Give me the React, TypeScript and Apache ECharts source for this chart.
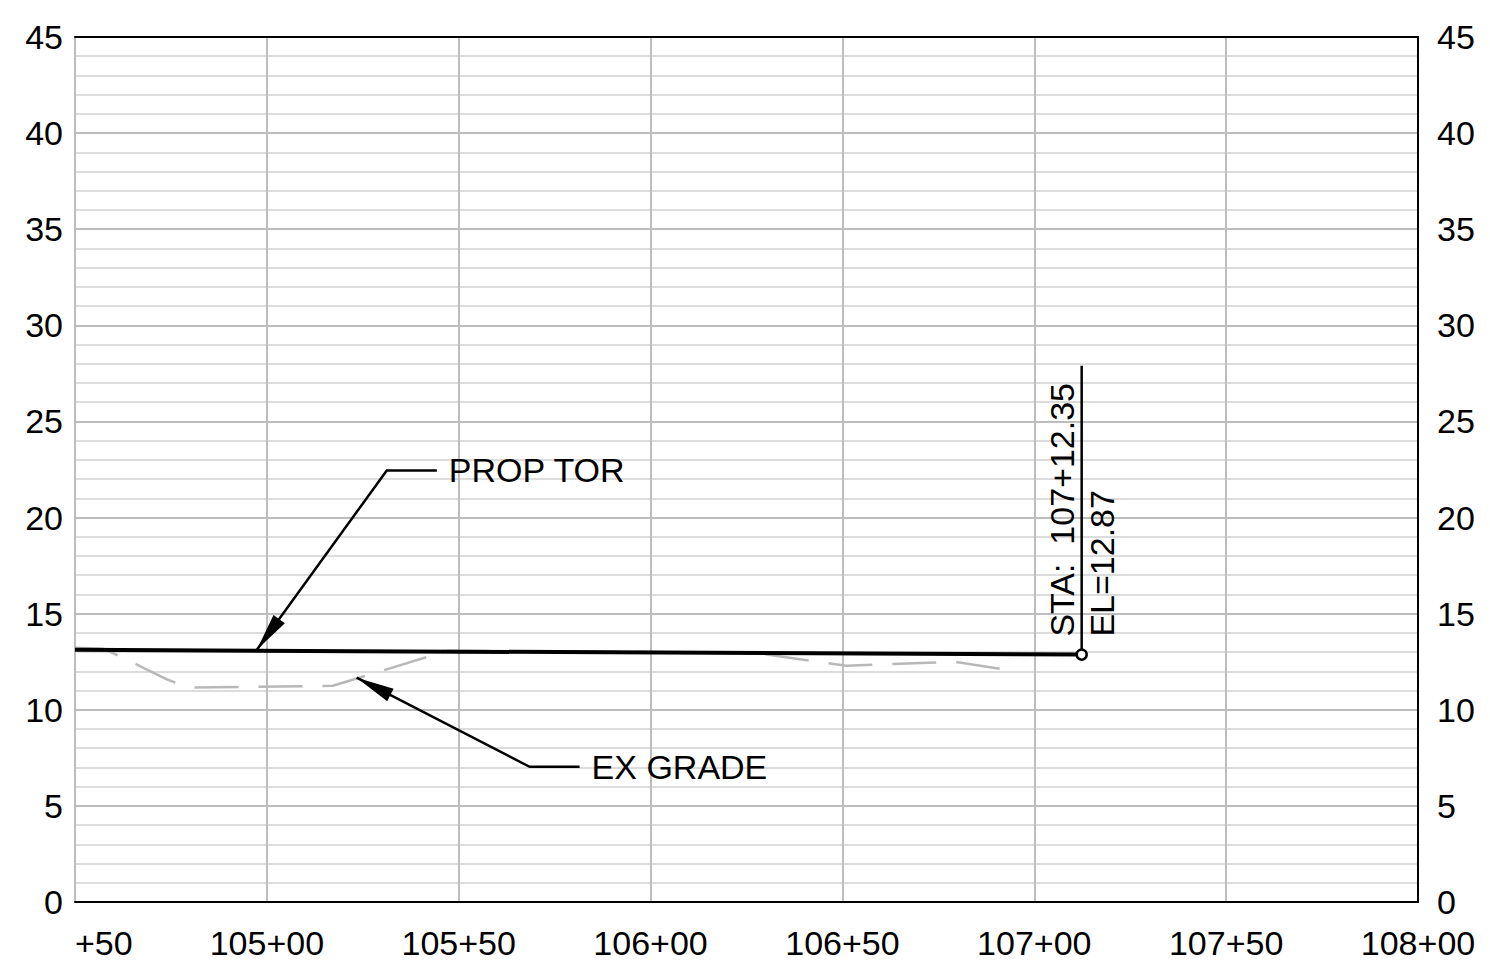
import React, { useEffect, useRef } from "react";
import * as echarts from "echarts";

// Station axis (feet), elevation axis
const stationTicks = [10450, 10500, 10550, 10600, 10650, 10700, 10750, 10800];
const stationTickLabels = ["+50", "105+00", "105+50", "106+00", "106+50", "107+00", "107+50", "108+00"];
const elevTicks = [0, 5, 10, 15, 20, 25, 30, 35, 40, 45];

// Proposed top of rail
const propTorStation = [10450, 10712.35];
const propTorElev = [13.12, 12.87];

// Existing grade
const exGradeStation = [10450, 10457.3, 10462.5, 10468.2, 10474.2, 10479.7, 10517.2, 10547.1, 10627.1, 10651.0, 10679.2, 10694.3];
const exGradeElev = [13.23, 13.18, 12.71, 12.14, 11.56, 11.15, 11.25, 13.07, 12.97, 12.29, 12.5, 12.03];

// Annotation anchors (station, elevation)
const propLeaderPts = [[10497.4, 13.12], [10531.25, 22.45], [10544.3, 22.45]];
const exLeaderPts = [[10523.4, 11.67], [10568.5, 7.03], [10581.5, 7.03]];
const staPoint = [10712.35, 12.87];
const staLeaderTop = 27.9;

const FONT = "Liberation Sans";
const FS = 34;

export default function App() {
  const ref = useRef<HTMLDivElement>(null);
  useEffect(() => {
    if (!ref.current) return;
    const chart = echarts.init(ref.current, null, { renderer: "svg" });
    const fmtX = (v: number) => {
      const i = stationTicks.indexOf(v);
      return i >= 0 ? stationTickLabels[i] : "";
    };
    const axisLabelStyle = { color: "#000", fontFamily: FONT, fontSize: FS };
    chart.setOption({
      animation: false,
      backgroundColor: "#fff",
      grid: { left: 75, right: 72, top: 37, bottom: 69, containLabel: false },
      xAxis: [
        {
          type: "value",
          min: stationTicks[0],
          max: stationTicks[stationTicks.length - 1],
          interval: 50,
          position: "bottom",
          axisLine: { show: true, lineStyle: { color: "#000", width: 2 } },
          axisTick: { show: false },
          axisLabel: { ...axisLabelStyle, margin: 24, formatter: fmtX, alignMinLabel: "left", showMinLabel: true, showMaxLabel: true },
          splitLine: { show: true, lineStyle: { color: "#bdbdbd", width: 2 } },
        },
        {
          type: "value",
          min: stationTicks[0],
          max: stationTicks[stationTicks.length - 1],
          interval: 50,
          position: "top",
          axisLine: { show: true, onZero: false, lineStyle: { color: "#000", width: 2 } },
          axisTick: { show: false },
          axisLabel: { show: false },
          splitLine: { show: false },
        },
      ],
      yAxis: [
        {
          type: "value",
          min: 0,
          max: 45,
          interval: 5,
          position: "left",
          axisLine: { show: false },
          axisTick: { show: false },
          axisLabel: { ...axisLabelStyle, margin: 12 },
          splitLine: { show: true, lineStyle: { color: "#bdbdbd", width: 2 } },
          minorTick: { show: false, splitNumber: 5 },
          minorSplitLine: { show: true, lineStyle: { color: "#dcdcdc", width: 2 } },
        },
        {
          type: "value",
          min: 0,
          max: 45,
          interval: 5,
          position: "right",
          axisLine: { show: true, onZero: false, lineStyle: { color: "#000", width: 2 } },
          axisTick: { show: false },
          axisLabel: { ...axisLabelStyle, margin: 19 },
          splitLine: { show: false },
        },
      ],
      series: [
        {
          name: "EX GRADE",
          type: "line",
          xAxisIndex: 0,
          yAxisIndex: 0,
          symbol: "none",
          data: exGradeStation.map((s, i) => [s, exGradeElev[i]]),
          lineStyle: { color: "#b8b8b8", width: 2.5, type: [44, 20] },
          z: 3,
        },
        {
          name: "PROP TOR",
          type: "line",
          xAxisIndex: 0,
          yAxisIndex: 0,
          symbol: "none",
          data: propTorStation.map((s, i) => [s, propTorElev[i]]),
          lineStyle: { color: "#000", width: 4 },
          z: 4,
        },
      ],
    });

    const px = (p: number[]) => chart.convertToPixel({ xAxisIndex: 0, yAxisIndex: 0 }, p) as number[];
    const arrowHead = (tip: number[], from: number[], len = 38, hw = 7) => {
      const dx = from[0] - tip[0];
      const dy = from[1] - tip[1];
      const d = Math.hypot(dx, dy);
      const ux = dx / d, uy = dy / d;
      const bx = tip[0] + ux * len, by = tip[1] + uy * len;
      return [tip, [bx - uy * hw, by + ux * hw], [bx + uy * hw, by - ux * hw]];
    };
    const leader = (pts: number[][], text: string) => {
      const p = pts.map(px);
      return [
        { type: "polyline", shape: { points: p }, style: { stroke: "#000", lineWidth: 2.5, fill: null }, z: 10 },
        { type: "polygon", shape: { points: arrowHead(p[0], p[1]) }, style: { fill: "#000" }, z: 10 },
        {
          type: "text",
          x: p[2][0] + 12,
          y: p[2][1],
          style: { text, fill: "#000", font: `${FS}px "${FONT}"`, textAlign: "left", textVerticalAlign: "middle" },
          z: 10,
        },
      ];
    };
    const sp = px(staPoint);
    const st = px([staPoint[0], staLeaderTop]);
    chart.setOption({
      graphic: [
        ...leader(propLeaderPts, "PROP TOR"),
        ...leader(exLeaderPts, "EX GRADE"),
        { type: "line", shape: { x1: sp[0], y1: sp[1], x2: st[0], y2: st[1] }, style: { stroke: "#000", lineWidth: 2.5 }, z: 10 },
        { type: "circle", shape: { cx: sp[0], cy: sp[1], r: 5 }, style: { fill: "#fff", stroke: "#000", lineWidth: 2.5 }, z: 11 },
        {
          type: "text",
          x: sp[0] - 3,
          y: sp[1] - 18,
          rotation: Math.PI / 2,
          style: { text: "STA:  107+12.35", fill: "#000", font: `${FS}px "${FONT}"`, textAlign: "left", textVerticalAlign: "bottom" },
          z: 10,
        },
        {
          type: "text",
          x: sp[0] + 3,
          y: sp[1] - 18,
          rotation: Math.PI / 2,
          style: { text: "EL=12.87", fill: "#000", font: `${FS}px "${FONT}"`, textAlign: "left", textVerticalAlign: "top" },
          z: 10,
        },
      ],
    });
    return () => chart.dispose();
  }, []);
  return <div ref={ref} style={{ position: "absolute", left: 0, top: 0, width: 1490, height: 971 }} />;
}
